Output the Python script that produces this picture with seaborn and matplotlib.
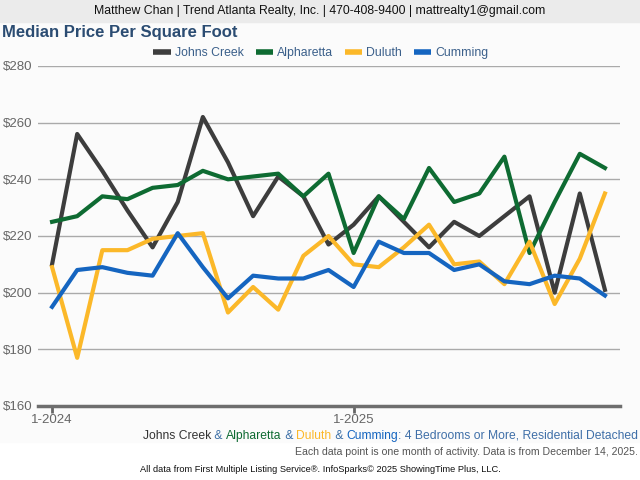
import pandas as pd
import numpy as np
import seaborn as sns
import matplotlib.pyplot as plt
from matplotlib.lines import Line2D
from matplotlib.patches import Rectangle

# monthly data, Jan 2024 - Nov 2025
months = ["1-2024", "2-2024", "3-2024", "4-2024", "5-2024", "6-2024", "7-2024", "8-2024",
          "9-2024", "10-2024", "11-2024", "12-2024", "1-2025", "2-2025", "3-2025", "4-2025",
          "5-2025", "6-2025", "7-2025", "8-2025", "9-2025", "10-2025", "11-2025"]
johns_creek = [210, 256, 243, 229, 216, 232, 262, 246, 227, 241, 234, 217,
               224, 234, 225, 216, 225, 220, 227, 234, 200, 235, 201]
alpharetta = [225, 227, 234, 233, 237, 238, 243, 240, 241, 242, 234, 242,
              214, 234, 226, 244, 232, 235, 248, 214, 232, 249, 244]
duluth = [209, 177, 215, 215, 219, 220, 221, 193, 202, 194, 213, 220,
          210, 209, 216, 224, 210, 211, 203, 218, 196, 212, 235]
cumming = [195, 208, 209, 207, 206, 221, 209, 198, 206, 205, 205, 208,
           202, 218, 214, 214, 208, 210, 204, 203, 206, 205, 199]

cities = ["Johns Creek", "Alpharetta", "Duluth", "Cumming"]
colors = ["#3d3d3d", "#0e6b32", "#fbb829", "#1565c0"]
tick_labels = ["1-2024", "1-2025"]

df = pd.DataFrame({"Month": months, "Johns Creek": johns_creek, "Alpharetta": alpharetta,
                   "Duluth": duluth, "Cumming": cumming})
df["idx"] = np.arange(len(months))
long_df = df.melt(id_vars=["Month", "idx"], value_vars=cities, var_name="City", value_name="Price")

plt.rcParams['font.family'] = ['Liberation Sans', 'DejaVu Sans']

fig = plt.figure(figsize=(6.4, 4.8), dpi=100)
fig.patches.append(Rectangle((0, 1 - 442 / 480), 1, (442 - 22) / 480, transform=fig.transFigure,
                             color="#fbfbfb", zorder=-10))
fig.patches.append(Rectangle((0, 1 - 22 / 480), 1, 22 / 480, transform=fig.transFigure,
                             color="#ebebeb", zorder=-10))

ax = fig.add_axes([38 / 640, 1 - 406 / 480, 582 / 640, 340 / 480])
ax.patch.set_alpha(0)
sns.lineplot(data=long_df, x="idx", y="Price", hue="City", hue_order=cities, palette=colors,
             linewidth=3, legend=False, ax=ax)

ax.set_xlim(-0.56, 22.6)
ax.set_ylim(160, 280)
ax.set_yticks(range(160, 281, 20))
ax.set_yticklabels(["$%d" % v for v in range(160, 281, 20)], color="#666666", fontsize=9.5)
ax.set_xticks([months.index(t) for t in tick_labels])
ax.set_xticklabels(tick_labels, color="#666666", fontsize=9.5)
ax.tick_params(axis="y", length=0, pad=4)
ax.tick_params(axis="x", length=5, width=2, color="#666666", pad=1)
ax.set_xlabel("")
ax.set_ylabel("")
for y in range(180, 281, 20):
    ax.axhline(y, color="#aaaaaa", linewidth=1, zorder=0)
for s in ["top", "right", "left"]:
    ax.spines[s].set_visible(False)
ax.spines["bottom"].set_color("#6e6e6e")
ax.spines["bottom"].set_linewidth(2.5)

fig.text(0.5, 1 - 11 / 480, "Matthew Chan | Trend Atlanta Realty, Inc. | 470-408-9400 | mattrealty1@gmail.com",
         ha="center", va="center", fontsize=8.8, color="#111111")
fig.text(2 / 640, 1 - 33 / 480, "Median Price Per Square Foot", ha="left", va="center",
         fontsize=12, fontweight="bold", color="#2b4c72")

handles = [Line2D([0], [0], color=c, linewidth=4, solid_capstyle="butt") for c in colors]
leg = fig.legend(handles, cities, loc="center", bbox_to_anchor=(321 / 640, 1 - 53 / 480), ncol=4,
                 frameon=False, fontsize=8.8, handlelength=1.4, handletextpad=0.33, columnspacing=1.0)
for t in leg.get_texts():
    t.set_color("#3a5f8a")

# multicoloured subtitle, built right to left
pieces = [("Johns Creek", "#333333"), (" & ", "#3a6ea5"), ("Alpharetta", "#0e6b32"),
          (" & ", "#3a6ea5"), ("Duluth", "#fbb829"), (" & ", "#3a6ea5"),
          ("Cumming", "#1565c0"), (": 4 Bedrooms or More, Residential Detached", "#3f6fa8")]
prev = fig.text(638 / 640, 1 - 439 / 480, pieces[-1][0], ha="right", va="baseline",
                fontsize=8.75, color=pieces[-1][1])
for txt, col in reversed(pieces[:-1]):
    prev = ax.annotate(txt, xy=(0, 0), xycoords=prev, ha="right", va="bottom",
                       fontsize=8.75, color=col, annotation_clip=False)

fig.text(638 / 640, 1 - 452 / 480, "Each data point is one month of activity. Data is from December 14, 2025.",
         ha="right", va="center", fontsize=7.6, color="#555555")
fig.text(0.5, 1 - 469 / 480, "All data from First Multiple Listing Service®. InfoSparks© 2025 ShowingTime Plus, LLC.",
         ha="center", va="center", fontsize=6.7, color="#111111")

fig.savefig("out.png", dpi=100)
